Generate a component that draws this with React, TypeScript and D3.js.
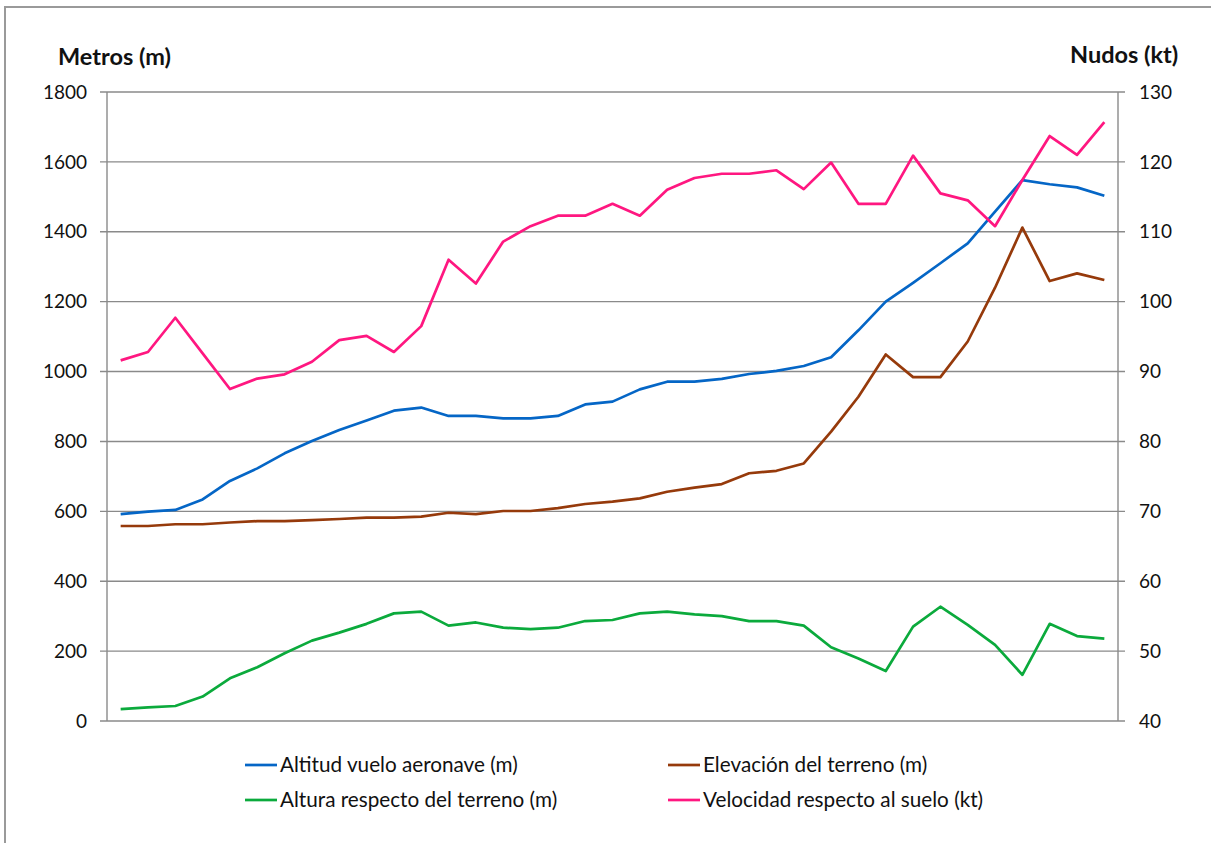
import { useEffect, useRef } from 'react'
import * as d3 from 'd3'

// 37 track points along the flight
const altitud = [
  592, 599, 604, 634, 687, 723, 766, 801, 833, 860, 888, 897, 873, 873, 866, 866, 873, 906, 914,
  949, 971, 971, 979, 993, 1002, 1016, 1041, 1118, 1200, 1254, 1310, 1367, 1458, 1548, 1536, 1527, 1503,
]
const elevacion = [
  558, 558, 563, 563, 568, 572, 572, 575, 578, 582, 582, 585, 596, 592, 601, 601, 609, 621, 628,
  637, 656, 668, 678, 709, 716, 737, 828, 928, 1049, 984, 984, 1086, 1240, 1412, 1259, 1281, 1262,
]
const altura = [
  34, 39, 43, 70, 122, 154, 194, 230, 253, 278, 308, 313, 273, 282, 267, 263, 267, 286, 289,
  308, 313, 305, 300, 286, 286, 273, 211, 179, 143, 270, 327, 275, 218, 132, 278, 243, 236,
]
const velocidad = [
  91.6, 92.8, 97.7, 92.6, 87.5, 89.0, 89.6, 91.4, 94.5, 95.1, 92.8, 96.5, 106.0, 102.6, 108.6, 110.8,
  112.3, 112.3, 114.0, 112.3, 116.0, 117.7, 118.3, 118.3, 118.8, 116.1, 119.9, 114.0, 114.0, 120.9,
  115.5, 114.5, 110.8, 117.4, 123.7, 121.0, 125.7,
]

const leftTicks = [0, 200, 400, 600, 800, 1000, 1200, 1400, 1600, 1800]
const rightTicks = [40, 50, 60, 70, 80, 90, 100, 110, 120, 130]

const SERIES = [
  { key: 'altitud', label: 'Altitud vuelo aeronave (m)', color: '#0566C6', values: altitud, axis: 'left' },
  { key: 'elevacion', label: 'Elevación del terreno (m)', color: '#963A0B', values: elevacion, axis: 'left' },
  { key: 'altura', label: 'Altura respecto del terreno (m)', color: '#0BAA3C', values: altura, axis: 'left' },
  { key: 'velocidad', label: 'Velocidad respecto al suelo (kt)', color: '#FF1780', values: velocidad, axis: 'right' },
]

const FONT = 'Lato, "Open Sans", sans-serif'

export default function App() {
  const svgRef = useRef<SVGSVGElement>(null)

  useEffect(() => {
    const svgEl = svgRef.current
    if (!svgEl) return
    const width = 1211
    const height = 843
    const svg = d3.select(svgEl)
    svg.selectAll('*').remove()
    svg.attr('width', width).attr('height', height)

    svg.append('rect').attr('width', width).attr('height', height).attr('fill', '#fff')
    // outer frame
    svg.append('rect')
      .attr('x', 5).attr('y', 7).attr('width', width + 10).attr('height', height + 10)
      .attr('fill', 'none').attr('stroke', '#9a9a9a').attr('stroke-width', 2)

    const plotL = 107, plotR = 1118, plotT = 92, plotB = 721

    const x = d3.scalePoint<number>().domain(d3.range(altitud.length)).range([plotL, plotR]).padding(0.5)
    const yL = d3.scaleLinear().domain([0, 1800]).range([plotB, plotT])
    const yR = d3.scaleLinear().domain([40, 130]).range([plotB, plotT])

    // gridlines (they also serve as tick marks on both sides)
    leftTicks.forEach(t => {
      svg.append('line')
        .attr('x1', plotL - 7).attr('x2', plotR + 7)
        .attr('y1', yL(t)).attr('y2', yL(t))
        .attr('stroke', '#8a8a8a').attr('stroke-width', 1.4)
    })
    svg.append('line').attr('x1', plotL).attr('x2', plotL).attr('y1', plotT).attr('y2', plotB)
      .attr('stroke', '#8a8a8a').attr('stroke-width', 1.4)
    svg.append('line').attr('x1', plotR).attr('x2', plotR).attr('y1', plotT).attr('y2', plotB)
      .attr('stroke', '#8a8a8a').attr('stroke-width', 1.4)

    leftTicks.forEach(t => {
      svg.append('text')
        .attr('x', 87).attr('y', yL(t))
        .attr('dy', '0.35em')
        .attr('text-anchor', 'end')
        .attr('fill', '#111')
        .style('font-family', FONT).style('font-size', '19px')
        .text(t)
    })
    rightTicks.forEach(t => {
      svg.append('text')
        .attr('x', 1139).attr('y', yR(t))
        .attr('dy', '0.35em')
        .attr('fill', '#111')
        .style('font-family', FONT).style('font-size', '19px')
        .text(t)
    })

    svg.append('text').attr('x', 58).attr('y', 65)
      .attr('fill', '#111').style('font-family', FONT).style('font-size', '23.5px').style('font-weight', 700)
      .text('Metros (m)')
    svg.append('text').attr('x', 1070).attr('y', 63)
      .attr('fill', '#111').style('font-family', FONT).style('font-size', '23.5px').style('font-weight', 700)
      .text('Nudos (kt)')

    // series
    SERIES.forEach(s => {
      const y = s.axis === 'left' ? yL : yR
      const line = d3.line<number>().x((_, i) => x(i) as number).y(d => y(d))
      svg.append('path')
        .attr('d', line(s.values))
        .attr('fill', 'none')
        .attr('stroke', s.color)
        .attr('stroke-width', 2.7)
        .attr('stroke-linejoin', 'round')
    })

    // legend, two columns x two rows
    const legendPos = [
      { x: 245, y: 765 },
      { x: 668, y: 765 },
      { x: 245, y: 800 },
      { x: 668, y: 800 },
    ]
    SERIES.forEach((s, i) => {
      const p = legendPos[i]
      svg.append('line')
        .attr('x1', p.x).attr('x2', p.x + 32)
        .attr('y1', p.y).attr('y2', p.y)
        .attr('stroke', s.color).attr('stroke-width', 2.7)
      svg.append('text')
        .attr('x', p.x + 35).attr('y', p.y)
        .attr('dy', '0.35em')
        .attr('fill', '#111')
        .style('font-family', FONT).style('font-size', '20.7px')
        .text(s.label)
    })
  }, [])

  return (
    <div style={{ position: 'absolute', left: 0, top: 0 }}>
      <svg ref={svgRef} style={{ display: 'block' }} />
    </div>
  )
}
